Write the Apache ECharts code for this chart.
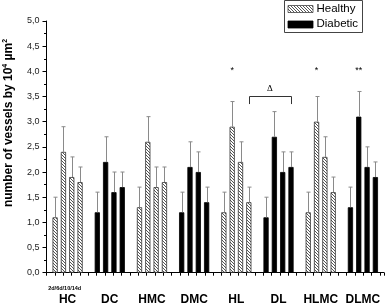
<!DOCTYPE html>
<html><head><meta charset="utf-8">
<script src="https://cdn.jsdelivr.net/npm/echarts@6/dist/echarts.min.js"></script>
<style>html,body{margin:0;padding:0;background:#fff}#c{width:389px;height:306px}</style>
</head><body><div id="c"></div>
<script>
// ---- data ----
const categories = ['HC','DC','HMC','DMC','HL','DL','HLMC','DLMC'];
const timepoints = ['2d','6d','10d','14d'];
const mean2d  = [1.1,1.2,1.3,1.2,1.2,1.1,1.2,1.3];
const mean6d  = [2.4,2.2,2.6,2.1,2.9,2.7,3.0,3.1];
const mean10d = [1.9,1.6,1.7,2.0,2.2,2.0,2.3,2.1];
const mean14d = [1.8,1.7,1.8,1.4,1.4,2.1,1.6,1.9];
const sd2d  = [0.4,0.4,0.4,0.4,0.4,0.4,0.4,0.4];
const sd6d  = [0.5,0.5,0.5,0.5,0.5,0.5,0.5,0.5];
const sd10d = [0.4,0.4,0.4,0.4,0.4,0.4,0.4,0.4];
const sd14d = [0.3,0.3,0.3,0.3,0.3,0.3,0.3,0.3];
const legendNames = ['Healthy','Diabetic'];
const timeLabel = '2d/6d/10/14d';

// ---- rendering ----
const FONT = 'Liberation Sans, Arial, sans-serif';
const BAR_W = 5.2, GAP = 0.6, PITCH = BAR_W * (1 + GAP);
function hatch(){
  const c=document.createElement('canvas'); c.width=3; c.height=3;
  const g=c.getContext('2d'); g.fillStyle='#fff'; g.fillRect(0,0,3,3);
  g.fillStyle='#555'; for(let i=0;i<3;i++) g.fillRect(i,i,1,1);
  return c;
}
const pat = hatch();
const means=[mean2d,mean6d,mean10d,mean14d];
const sds=[sd2d,sd6d,sd10d,sd14d];
const isHealthy = c => c.charAt(0)==='H';

const chart = echarts.init(document.getElementById('c'), null, {renderer:'canvas'});
const barSeries = timepoints.map((t,k)=>({
  type:'bar', name:t, barWidth:BAR_W, barGap:(GAP*100)+'%', z:2,
  data: means[k].map((v,i)=>({value:v, itemStyle: isHealthy(categories[i])
    ? {color:{image:pat, repeat:'repeat'}, borderColor:'#333', borderWidth:0.8}
    : {color:'#000', borderColor:'#000', borderWidth:0.8}}))
}));
const errData=[];
categories.forEach((c,i)=>{ for(let k=0;k<4;k++) errData.push([i,k,means[k][i],sds[k][i]]); });

chart.setOption({
  animation:false,
  grid:{left:46.5, right:5, top:21, bottom:33.3, containLabel:false},
  xAxis:[
    {type:'category', data:categories, position:'bottom',
     axisLine:{lineStyle:{color:'#000', width:1}}, axisTick:{show:false},
     axisLabel:{interval:0, margin:21, fontSize:12, fontWeight:'bold', color:'#000', fontFamily:FONT}},
    {type:'value', min:0, max:40.5, interval:1, position:'bottom', offset:0,
     axisLine:{show:false}, axisTick:{show:true, length:3, lineStyle:{color:'#000'}},
     axisLabel:{show:false}, splitLine:{show:false}}
  ],
  yAxis:{type:'value', min:0, max:5, interval:0.5,
    axisLine:{show:true, lineStyle:{color:'#000', width:1}},
    axisTick:{show:true, length:4, lineStyle:{color:'#000'}},
    minorTick:{show:true, splitNumber:2, length:2.5, lineStyle:{color:'#000'}},
    splitLine:{show:false},
    axisLabel:{margin:7, fontSize:9, color:'#222', fontFamily:FONT, formatter:v=>v.toFixed(1).replace('.',',')}},
  series: barSeries.concat([{
    type:'custom', xAxisIndex:0, yAxisIndex:0, z:3, data:errData, encode:{x:0,y:2},
    renderItem:(params, api)=>{
      const ci=api.value(0), k=api.value(1), m=api.value(2), s=api.value(3);
      const base=api.coord([ci,m]), top=api.coord([ci,m+s]);
      const x=Math.round(base[0]+(k-1.5)*PITCH)+0.5;
      const st={stroke:'#8a8a8a', lineWidth:1};
      return {type:'group', children:[
        {type:'line', shape:{x1:x,y1:base[1],x2:x,y2:top[1]}, style:st},
        {type:'line', shape:{x1:x-2,y1:top[1],x2:x+2,y2:top[1]}, style:st}
      ]};
    }
  }])
});

// annotations (positions derived from axes)
function px(cat, k, v){
  const p = chart.convertToPixel({xAxisIndex:0, yAxisIndex:0}, [categories.indexOf(cat), v]);
  return [p[0]+(k-1.5)*PITCH, p[1]];
}
const starY = 4.05;
const s1=px('HL',1,starY), s2=px('HLMC',1,starY), s3=px('DLMC',1,starY);
const bL=px('HL',3,3.51), bR=px('DL',3,3.51), bLow=px('HL',3,3.35);
const starStyle = t=>({text:t, fontSize:9, fontFamily:FONT, fill:'#000', align:'center', verticalAlign:'middle'});
chart.setOption({graphic:[
  {type:'text', x:s1[0], y:s1[1]+2, style:starStyle('*')},
  {type:'text', x:s2[0], y:s2[1]+2, style:starStyle('*')},
  {type:'text', x:s3[0], y:s3[1]+2, style:starStyle('**')},
  {type:'polyline', shape:{points:[[Math.round(bL[0])+0.5,bLow[1]],[Math.round(bL[0])+0.5,Math.round(bL[1])+0.5],[Math.round(bR[0])+0.5,Math.round(bL[1])+0.5],[Math.round(bR[0])+0.5,bLow[1]]]}, style:{stroke:'#333', lineWidth:1, fill:null}},
  {type:'text', x:(bL[0]+bR[0])/2, y:bL[1]-7, style:{text:'Δ', fontSize:9, fontFamily:'Liberation Serif, DejaVu Serif, serif', fill:'#000', align:'center', verticalAlign:'middle'}},
  // y axis title
  {type:'text', x:9, y:123, rotation:Math.PI/2, style:{
    text:'{a|number of vessels by 10}{s|4}{a| µm}{s|2}', align:'center', verticalAlign:'middle',
    rich:{a:{fontSize:12, fontWeight:'bold', fontFamily:FONT, fill:'#000', lineHeight:14},
          s:{fontSize:7, fontWeight:'bold', fontFamily:FONT, fill:'#000', verticalAlign:'top', lineHeight:9}}}},
  // time label
  {type:'text', x:64.7, y:288.7, style:{text:timeLabel, fontSize:5.5, fontWeight:'bold', fontFamily:FONT, fill:'#000', align:'center', verticalAlign:'middle'}},
  // legend
  {type:'rect', shape:{x:284.5, y:0.5, width:78, height:32}, style:{fill:'#fff', stroke:'#444', lineWidth:1}},
  {type:'rect', shape:{x:288, y:5.5, width:25, height:7}, style:{fill:{image:pat, repeat:'repeat'}, stroke:'#444', lineWidth:0.8}},
  {type:'text', x:316.5, y:9.3, style:{text:legendNames[0], fontSize:11.5, fontFamily:FONT, fill:'#000', align:'left', verticalAlign:'middle'}},
  {type:'rect', shape:{x:288, y:21, width:25, height:7}, style:{fill:'#000', stroke:'#000', lineWidth:0.8}},
  {type:'text', x:316.5, y:24.3, style:{text:legendNames[1], fontSize:11.5, fontFamily:FONT, fill:'#000', align:'left', verticalAlign:'middle'}}
]});
</script></body></html>
